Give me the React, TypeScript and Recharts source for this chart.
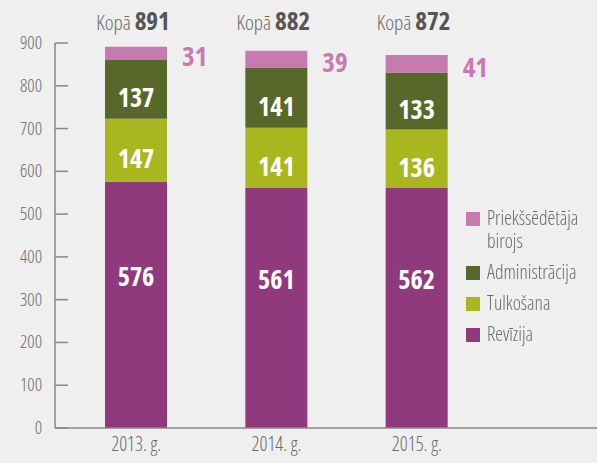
import { BarChart, Bar, XAxis, YAxis, LabelList } from "recharts";

const years = ["2013. g.", "2014. g.", "2015. g."];
const revizija = [576, 561, 562];
const tulkosana = [147, 141, 136];
const administracija = [137, 141, 133];
const priekssedetaja = [31, 39, 41];
const yTicks = [0, 100, 200, 300, 400, 500, 600, 700, 800, 900];

const FONT = "'Open Sans', 'DejaVu Sans Condensed', sans-serif";
const NARROW = { fontStretch: "75%" } as const;

const COLORS = {
  revizija: "#8e3a7c",
  tulkosana: "#a9b71f",
  administracija: "#57682a",
  priekssedetaja: "#c77aaf",
};

const legendItems = [
  { name: "Priekšsēdētāja birojs", color: COLORS.priekssedetaja },
  { name: "Administrācija", color: COLORS.administracija },
  { name: "Tulkošana", color: COLORS.tulkosana },
  { name: "Revīzija", color: COLORS.revizija },
];

const data = years.map((year, i) => ({
  year,
  revizija: revizija[i],
  tulkosana: tulkosana[i],
  administracija: administracija[i],
  priekssedetaja: priekssedetaja[i],
  total: revizija[i] + tulkosana[i] + administracija[i] + priekssedetaja[i],
}));

function YTick(props: any) {
  const { x, y, payload } = props;
  return (
    <g>
      <line x1={x + 13} x2={x + 26} y1={y} y2={y} stroke="#888" strokeWidth={1.5} />
      <text x={x} y={y} dy={6} textAnchor="end" fill="#6a6a6a" fontSize={18} fontWeight={300} fontFamily={FONT} style={NARROW}>
        {payload.value}
      </text>
    </g>
  );
}

function XTick(props: any) {
  const { x, y, payload } = props;
  return (
    <text x={x} y={y} dy={15} textAnchor="middle" fill="#6a6a6a" fontSize={19.5} fontWeight={300} fontFamily={FONT} style={NARROW}>
      {payload.value}
    </text>
  );
}

// shift: vertical offset of the label's baseline from the segment centre
function makeInsideLabel(shift: number) {
  return function InsideLabel(props: any) {
    const { x, y, width, height, value } = props;
    return (
      <text
        x={x + width / 2}
        y={y + height / 2 + shift}
        textAnchor="middle"
        fill="#fff"
        fontSize={26}
        fontWeight="bold"
        fontFamily={FONT}
        style={NARROW}
      >
        {value}
      </text>
    );
  };
}

const RevLabel = makeInsideLabel(-19);
const MidLabel = makeInsideLabel(18);

function TopLabel(props: any) {
  const { x, y, width, height, value, index } = props;
  const total = data[index].total;
  return (
    <g>
      <text
        x={x + width + 15}
        y={y + height / 2 + 13}
        fill={COLORS.priekssedetaja}
        fontSize={27}
        fontWeight="bold"
        fontFamily={FONT}
        style={NARROW}
      >
        {value}
      </text>
      <text x={x + width / 2 - 3} y={30} textAnchor="middle" fontFamily={FONT} style={NARROW}>
        <tspan fill="#6a6a6a" fontSize={21} fontWeight={300}>Kopā </tspan>
        <tspan fill="#555" fontSize={25} fontWeight="bold">{total}</tspan>
      </text>
    </g>
  );
}

export default function App() {
  return (
    <div
      style={{
        position: "fixed",
        left: 0,
        top: 0,
        width: 597,
        height: 463,
        background: "#efefef",
        fontFamily: FONT,
        ...NARROW,
      }}
    >
      <BarChart
        width={597}
        height={463}
        data={data}
        margin={{ top: 43, right: 0, bottom: 5, left: 0 }}
        barSize={62}
      >
        <XAxis
          dataKey="year"
          height={30}
          tick={<XTick />}
          tickLine={false}
          axisLine={{ stroke: "#888", strokeWidth: 1.5 }}
          padding={{ left: 11, right: 110 }}
          interval={0}
        />
        <YAxis
          domain={[0, 900]}
          ticks={yTicks}
          interval={0}
          width={55}
          tickSize={0}
          tickMargin={13}
          tickLine={false}
          axisLine={{ stroke: "#888", strokeWidth: 1.5 }}
          tick={<YTick />}
        />
        <Bar dataKey="revizija" stackId="a" fill={COLORS.revizija} isAnimationActive={false}>
          <LabelList dataKey="revizija" content={<RevLabel />} />
        </Bar>
        <Bar dataKey="tulkosana" stackId="a" fill={COLORS.tulkosana} isAnimationActive={false}>
          <LabelList dataKey="tulkosana" content={<MidLabel />} />
        </Bar>
        <Bar dataKey="administracija" stackId="a" fill={COLORS.administracija} isAnimationActive={false}>
          <LabelList dataKey="administracija" content={<MidLabel />} />
        </Bar>
        <Bar dataKey="priekssedetaja" stackId="a" fill={COLORS.priekssedetaja} isAnimationActive={false}>
          <LabelList dataKey="priekssedetaja" content={<TopLabel />} />
        </Bar>
      </BarChart>
      <div
        style={{
          position: "absolute",
          left: 466,
          top: 206,
          display: "flex",
          flexDirection: "column",
          gap: 8,
        }}
      >
        {legendItems.map((item) => (
          <div key={item.name} style={{ display: "flex", alignItems: "flex-start", gap: 7 }}>
            <div style={{ width: 14, height: 14, background: item.color, marginTop: 6, flexShrink: 0 }} />
            <div
              style={{
                fontSize: 19.5,
                fontWeight: 300,
                fontStretch: "82%",
                lineHeight: "23px",
                color: "#6a6a6a",
                width: 115,
              }}
            >
              {item.name}
            </div>
          </div>
        ))}
      </div>
    </div>
  );
}
